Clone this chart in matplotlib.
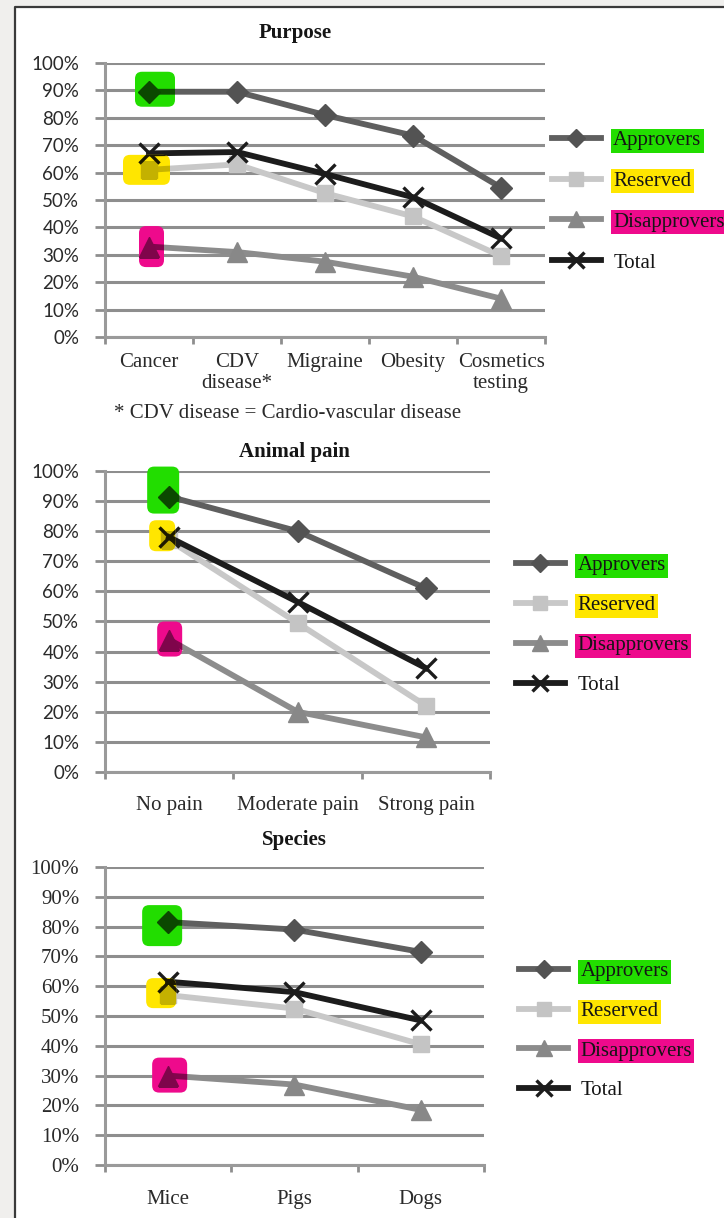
import matplotlib
matplotlib.use('Agg')
import matplotlib.pyplot as plt
import matplotlib.transforms as mtransforms
from matplotlib.patches import FancyBboxPatch, Rectangle
from matplotlib.lines import Line2D
from matplotlib.colors import to_rgb

SERIES = ['Approvers', 'Reserved', 'Disapprovers', 'Total']

purpose_labels = ['Cancer', 'CDV\ndisease*', 'Migraine', 'Obesity', 'Cosmetics\ntesting']
purpose_approvers = [89.5, 89.5, 81, 73.5, 54.5]
purpose_reserved = [61, 63, 52.5, 44, 29.5]
purpose_disapprovers = [33, 31, 27.5, 22, 14]
purpose_total = [67, 67.5, 59.5, 51, 36]

pain_labels = ['No pain', 'Moderate pain', 'Strong pain']
pain_approvers = [91.5, 80, 61]
pain_reserved = [77, 49.5, 22]
pain_disapprovers = [44, 20, 11.5]
pain_total = [78, 56.5, 34.5]

species_labels = ['Mice', 'Pigs', 'Dogs']
species_approvers = [81.5, 79, 71.5]
species_reserved = [57, 52.5, 40.5]
species_disapprovers = [30, 27, 18.5]
species_total = [61.5, 58, 48.5]

percent_ticks = list(range(0, 101, 10))
percent_labels = [f'{v}%' for v in percent_ticks]

SERIF = 'Liberation Serif'
SANS = 'Lato'
GRID = '#8e8e8e'
TEXT = '#2a2a2a'

GREEN = '#22dd00'
YELLOW = '#ffe600'
MAGENTA = '#ee0a8c'

STYLE = {
    'Approvers': dict(color='#5f5f5f', marker='D', ms=11, mfc='#535353', mec='#535353'),
    'Reserved': dict(color='#c8c8c8', marker='s', ms=12, mfc='#c4c4c4', mec='#c4c4c4'),
    'Disapprovers': dict(color='#8c8c8c', marker='^', ms=15, mfc='#888888', mec='#888888'),
    'Total': dict(color='#1c1c1c', marker='x', ms=14, mew=2.4),
}
LEGEND_COLORS = [GREEN, YELLOW, MAGENTA, None]


def multiply(c1, c2):
    a, b = to_rgb(c1), to_rgb(c2)
    return tuple(x * y for x, y in zip(a, b))


def draw_panel(ax, labels, series, sans_y, xpad, marks):
    n = len(labels)
    xs = list(range(n))
    for name, vals in zip(SERIES, series):
        ax.plot(xs, vals, lw=4.2, zorder=3, solid_joinstyle='round', **STYLE[name])

    ax.set_xlim(-0.5, n - 0.5)
    ax.set_ylim(0, 100)
    ax.set_yticks(percent_ticks)
    if sans_y:
        ax.set_yticklabels(percent_labels, fontfamily=SANS, fontsize=13.5, color=TEXT)
    else:
        ax.set_yticklabels(percent_labels, fontfamily=SERIF, fontsize=15, color=TEXT)
    ax.set_xticks(xs)
    ax.set_xticklabels(labels, linespacing=1.15, fontfamily=SERIF, fontsize=15, color=TEXT)
    ax.set_xticks([i - 0.5 for i in range(n + 1)], minor=True)
    ax.tick_params(axis='x', which='major', length=0, pad=xpad)
    ax.tick_params(axis='x', which='minor', length=5, width=2, color=GRID)
    ax.tick_params(axis='y', length=7.5, width=2, color=GRID, pad=11)
    ax.grid(axis='y', color=GRID, lw=2.2, zorder=1)
    ax.set_axisbelow(True)
    for s in ['top', 'right']:
        ax.spines[s].set_visible(False)
    for s in ['left', 'bottom']:
        ax.spines[s].set_color('#9a9a9a')
        ax.spines[s].set_linewidth(2.2)

    # highlighter blobs on the first point, sized in pixels around it;
    # lines are redrawn inside each blob in a darkened colour
    for (idx, col, w, h, dx, dy) in marks:
        y0 = series[idx][0]
        trans = mtransforms.ScaledTranslation(0, y0, ax.transData)
        patch = FancyBboxPatch((dx - w / 2, dy - h / 2), w, h,
                               boxstyle='round,pad=0,rounding_size=7',
                               fc=col, ec='none', transform=trans,
                               zorder=5, clip_on=False)
        ax.add_patch(patch)
        for name, vals in zip(SERIES, series):
            st = dict(STYLE[name])
            st['color'] = multiply(st['color'], col)
            if 'mfc' in st:
                st['mfc'] = multiply(st['mfc'], col)
                st['mec'] = st['mfc']
            ln, = ax.plot(xs, vals, lw=4.2, zorder=6, solid_joinstyle='round', **st)
            ln.set_clip_path(patch)


def add_legend(fig, x, y, spacing):
    handles = []
    for name in SERIES:
        st = dict(STYLE[name])
        st['ms'] = st['ms'] * 0.8
        handles.append(Line2D([], [], lw=4.2, **st))
    leg = fig.legend(handles, SERIES, loc='center left', bbox_to_anchor=(x, y),
                     frameon=False, prop={'family': SERIF, 'size': 15},
                     handlelength=2.35, handletextpad=0.6, labelspacing=spacing,
                     borderpad=0, borderaxespad=0)
    for t, c in zip(leg.get_texts(), LEGEND_COLORS):
        t.set_color('#151515')
        if c:
            t.set_bbox(dict(facecolor=c, edgecolor='none', pad=1.8))


fig = plt.figure(figsize=(7.24, 12.18), dpi=100)
fig.patch.set_facecolor('#f0efed')
x_edge = 15 / 724
y_edge = 1 - 7 / 1218
fig.add_artist(Rectangle((x_edge, 0), 1 - x_edge, y_edge, transform=fig.transFigure,
                         fc='white', ec='none', zorder=-10))
fig.add_artist(Line2D([x_edge, x_edge, 1], [0, y_edge, y_edge], transform=fig.transFigure,
                      color='#3a3a3a', lw=1.6, zorder=-9))

ax1 = fig.add_axes([0.145, 0.7233, 0.608, 0.225])
draw_panel(ax1, purpose_labels,
           [purpose_approvers, purpose_reserved, purpose_disapprovers, purpose_total],
           True, 11.5,
           [(0, GREEN, 40, 35, 6, 2.5), (1, YELLOW, 47, 30, -2.5, 0),
            (2, MAGENTA, 25, 41, 2.5, 0)])
add_legend(fig, 0.762, 0.8345, 1.02)
fig.text(0.408, 0.973, 'Purpose', ha='center', va='center', family=SERIF,
         fontsize=15, fontweight='bold', color='#151515')
fig.text(0.397, 0.6605, '* CDV disease = Cardio-vascular disease', ha='center',
         va='center', family=SERIF, fontsize=15, color=TEXT)

ax2 = fig.add_axes([0.145, 0.3662, 0.532, 0.2471])
draw_panel(ax2, pain_labels,
           [pain_approvers, pain_reserved, pain_disapprovers, pain_total],
           True, 17,
           [(0, GREEN, 32, 47, -6, 6.5), (1, YELLOW, 26, 31, -7, 4.5),
            (2, MAGENTA, 25, 35, 0.5, 0.5)])
add_legend(fig, 0.7127, 0.4865, 0.98)
fig.text(0.407, 0.629, 'Animal pain', ha='center', va='center', family=SERIF,
         fontsize=15, fontweight='bold', color='#151515')

ax3 = fig.add_axes([0.145, 0.0435, 0.5235, 0.2447])
draw_panel(ax3, species_labels,
           [species_approvers, species_reserved, species_disapprovers, species_total],
           False, 18,
           [(0, GREEN, 40, 41, -6, -3.5), (1, YELLOW, 30, 30, -7, 2),
            (2, MAGENTA, 35, 35, 1.5, 0.5)])
add_legend(fig, 0.7169, 0.1535, 0.96)
fig.text(0.406, 0.3103, 'Species', ha='center', va='center', family=SERIF,
         fontsize=15, fontweight='bold', color='#151515')

fig.savefig('out.png', dpi=100, facecolor=fig.get_facecolor())
